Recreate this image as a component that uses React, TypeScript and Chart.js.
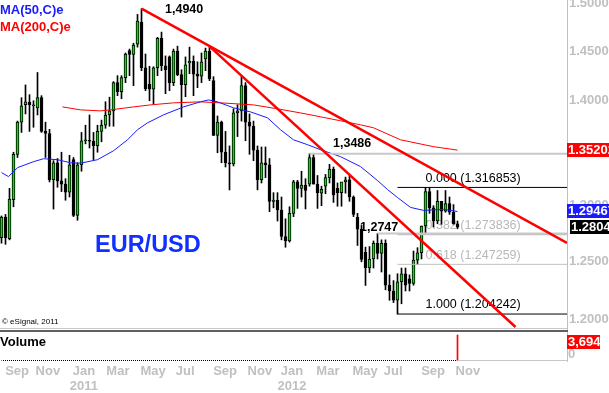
import React, { useEffect, useRef } from 'react';
import { Chart, registerables } from 'chart.js';

Chart.register(...registerables);

const FONT = '"Liberation Sans", Arial, sans-serif';
const GREEN = '#00e600';

// Weekly EUR/USD candles (week index 0 = first bar on the left)
const OPEN = [
  1.2710, 1.2895, 1.2700, 1.3055, 1.3480, 1.3790, 1.3960, 1.3985, 1.3950, 1.3930,
  1.4030, 1.3700, 1.3680, 1.3240, 1.3400, 1.3230, 1.3200, 1.3125, 1.3430, 1.2910,
  1.3380, 1.3610, 1.3615, 1.3605, 1.3563, 1.3700, 1.3760, 1.3860, 1.3900, 1.4180,
  1.4090, 1.4230, 1.4505, 1.4465, 1.4570, 1.4800, 1.4330, 1.4165, 1.4115, 1.4330,
  1.4630, 1.4350, 1.4440, 1.4180, 1.4500, 1.4260, 1.4160, 1.4380, 1.4395, 1.4265,
  1.4245, 1.4420, 1.4500, 1.4200, 1.3660, 1.3790, 1.3500, 1.3400, 1.3390, 1.3880,
  1.3900, 1.4150, 1.3790, 1.3750, 1.3520, 1.3240, 1.3400, 1.3380, 1.3040, 1.3050,
  1.2960, 1.2720, 1.2680, 1.2930, 1.3220, 1.3160, 1.3190, 1.3200, 1.3450, 1.3200,
  1.3115, 1.3180, 1.3260, 1.3340, 1.3160, 1.3120, 1.3220, 1.3240, 1.3080, 1.2893,
  1.2785, 1.2580, 1.2440, 1.2520, 1.2660, 1.2570, 1.2660, 1.2290, 1.2240, 1.2160,
  1.2320, 1.2390, 1.2345, 1.2305, 1.2510, 1.2575, 1.2815, 1.3130, 1.2980, 1.2860,
  1.3040, 1.2950, 1.3020, 1.2940, 1.2835,
];
const HIGH = [
  1.2906, 1.2920, 1.3160, 1.3500, 1.3800, 1.4030, 1.4157, 1.4060, 1.4000, 1.4282,
  1.4050, 1.3790, 1.3720, 1.3420, 1.3440, 1.3500, 1.3250, 1.3470, 1.3450, 1.3400,
  1.3690, 1.3760, 1.3860, 1.3690, 1.3760, 1.3810, 1.3990, 1.4035, 1.4190, 1.4250,
  1.4250, 1.4480, 1.4520, 1.4580, 1.4880, 1.4940, 1.4470, 1.4345, 1.4340, 1.4640,
  1.4695, 1.4450, 1.4450, 1.4520, 1.4550, 1.4310, 1.4440, 1.4540, 1.4450, 1.4390,
  1.4480, 1.4530, 1.4548, 1.4240, 1.3850, 1.3800, 1.3700, 1.3560, 1.3920, 1.3960,
  1.4247, 1.4180, 1.3870, 1.3800, 1.3560, 1.3550, 1.3550, 1.3440, 1.3120, 1.3120,
  1.3080, 1.2880, 1.2990, 1.3235, 1.3235, 1.3320, 1.3250, 1.3486, 1.3490, 1.3280,
  1.3180, 1.3290, 1.3385, 1.3360, 1.3210, 1.3215, 1.3265, 1.3280, 1.3090, 1.2930,
  1.2820, 1.2625, 1.2630, 1.2680, 1.2747, 1.2690, 1.2690, 1.2380, 1.2330, 1.2390,
  1.2440, 1.2440, 1.2380, 1.2590, 1.2620, 1.2815, 1.316853, 1.3165, 1.3000, 1.3140,
  1.3040, 1.3140, 1.3080, 1.3010, 1.2860,
];
const LOW = [
  1.2660, 1.2650, 1.2690, 1.2990, 1.3450, 1.3690, 1.3870, 1.3700, 1.3740, 1.3860,
  1.3690, 1.3450, 1.3220, 1.2969, 1.3170, 1.3130, 1.3050, 1.3080, 1.2900, 1.2867,
  1.3320, 1.3580, 1.3540, 1.3430, 1.3500, 1.3600, 1.3730, 1.3750, 1.3750, 1.4050,
  1.4020, 1.4180, 1.4250, 1.4150, 1.4540, 1.4300, 1.4100, 1.4000, 1.3968, 1.4250,
  1.4300, 1.4070, 1.4100, 1.4150, 1.4250, 1.3840, 1.4040, 1.4270, 1.4050, 1.4130,
  1.4180, 1.4300, 1.4200, 1.3660, 1.3495, 1.3400, 1.3360, 1.3145, 1.3370, 1.3650,
  1.3800, 1.3610, 1.3480, 1.3420, 1.3146, 1.3210, 1.3260, 1.2945, 1.2980, 1.2860,
  1.2690, 1.2624, 1.2670, 1.2900, 1.2975, 1.3080, 1.2970, 1.3180, 1.3200, 1.2975,
  1.3000, 1.3110, 1.3210, 1.3030, 1.2995, 1.2995, 1.3115, 1.3040, 1.2900, 1.2640,
  1.2495, 1.2288, 1.2400, 1.2440, 1.2520, 1.2405, 1.2250, 1.2160, 1.2140, 1.2042,
  1.2130, 1.2240, 1.2240, 1.2290, 1.2470, 1.2520, 1.2750, 1.2930, 1.2805, 1.2835,
  1.2830, 1.2940, 1.2920, 1.2830, 1.2790,
];
const CLOSE = [
  1.2895, 1.2710, 1.3060, 1.3480, 1.3790, 1.3950, 1.3990, 1.3960, 1.3955, 1.4030,
  1.3700, 1.3680, 1.3240, 1.3400, 1.3230, 1.3200, 1.3125, 1.3380, 1.2910, 1.3380,
  1.3610, 1.3615, 1.3605, 1.3563, 1.3700, 1.3760, 1.3860, 1.3900, 1.4180, 1.4090,
  1.4230, 1.4470, 1.4465, 1.4560, 1.4810, 1.4330, 1.4120, 1.4115, 1.4330, 1.4630,
  1.4350, 1.4310, 1.4180, 1.4500, 1.4260, 1.4160, 1.4360, 1.4395, 1.4265, 1.4245,
  1.4390, 1.4500, 1.4220, 1.3660, 1.3790, 1.3500, 1.3400, 1.3390, 1.3880, 1.3900,
  1.4150, 1.3790, 1.3750, 1.3520, 1.3240, 1.3400, 1.3380, 1.3040, 1.3050, 1.2960,
  1.2720, 1.2680, 1.2930, 1.3220, 1.3160, 1.3190, 1.3140, 1.3450, 1.3200, 1.3120,
  1.3150, 1.3260, 1.3340, 1.3100, 1.3120, 1.3220, 1.3240, 1.3080, 1.2920, 1.2785,
  1.2515, 1.2440, 1.2520, 1.2660, 1.2570, 1.2660, 1.2290, 1.2240, 1.2160, 1.2320,
  1.2390, 1.2290, 1.2305, 1.2510, 1.2575, 1.2815, 1.3130, 1.2980, 1.2860, 1.3040,
  1.2950, 1.3020, 1.2940, 1.2835, 1.2804,
];

// Moving averages (week index, value)
const MA50_IDX = [0, 1.75, 4, 8, 10.5, 14, 17.25, 19.75, 24, 28, 31.5, 34, 36.5, 40.5, 45.5, 49.75, 51.75, 54, 58, 62.25, 66.5, 69.75, 73, 76.5, 79.75, 84.75, 89.75, 94, 96.5, 99, 102.25, 105.5, 110.5, 114];
const MA50_VAL = [1.3307, 1.3270, 1.3354, 1.3410, 1.3438, 1.3429, 1.3400, 1.3396, 1.3429, 1.3514, 1.3619, 1.3716, 1.3783, 1.3861, 1.3939, 1.3989, 1.4008, 1.3989, 1.3930, 1.3890, 1.3832, 1.3716, 1.3619, 1.3572, 1.3524, 1.3458, 1.3364, 1.3233, 1.3149, 1.3075, 1.2984, 1.2957, 1.2966, 1.29467];
const MA200_IDX = [15.25, 19.75, 24.75, 27.25, 33, 37.25, 43, 49.75, 54.75, 63, 69, 74.75, 79.75, 84.75, 89.75, 93, 99.75, 108, 114];
const MA200_VAL = [1.3939, 1.3910, 1.3900, 1.3910, 1.3939, 1.3959, 1.3979, 1.3989, 1.3979, 1.3959, 1.3920, 1.3880, 1.3842, 1.3803, 1.3764, 1.3735, 1.3619, 1.3553, 1.35202];

// Trend lines (week index, price)
const TREND_A_IDX = [35, 141.375];
const TREND_A_VAL = [1.4940, 1.2662];
const TREND_B_IDX = [52, 128.5];
const TREND_B_VAL = [1.4548, 1.1933];

// Horizontal levels
const PEAK_LEVELS = [1.3486, 1.2747];
const PEAK_START = [77, 94];
const PEAK_TEXT = ['1,3486', '1,2747'];
const FIB_LEVELS = [1.316853, 1.273836, 1.247259, 1.204242];
const FIB_NAMES = ['0.000', '0.382', '0.618', '1.000'];
const FIB_START = 99;
const X_END = 141.375;

const VOLUME_LAST = 3694;

const Y_TICKS = [1.5, 1.45, 1.4, 1.35, 1.3, 1.25, 1.2];
const MONTH_POS = [3.9, 11.6, 20.6, 29.1, 37.9, 45.9, 55.9, 64.6, 72.6, 81.6, 90.9, 97.9, 107.9, 116.6];
const MONTH_LABELS = ['Sep', 'Nov', 'Jan', 'Mar', 'May', 'Jul', 'Sep', 'Nov', 'Jan', 'Mar', 'May', 'Jul', 'Sep', 'Nov'];
const YEAR_AT: Record<number, string> = { 2: '2011', 8: '2012' };

const PRICE_MAX = 1.5032;
const PRICE_MIN = 1.16496;

const overlayPlugin = {
  id: 'overlay',
  beforeDatasetsDraw(chart: any) {
    const { ctx, scales } = chart;
    const xs = scales.x, ys = scales.y;
    ctx.save();
    ctx.font = `12.5px ${FONT}`;
    ctx.textAlign = 'left';
    ctx.textBaseline = 'middle';
    FIB_LEVELS.forEach((lv, k) => {
      ctx.fillStyle = (k === 0 || k === 3) ? '#000000' : '#b8b8b8';
      ctx.fillText(`${FIB_NAMES[k]} (${lv.toFixed(6)})`, xs.getPixelForValue(106), ys.getPixelForValue(lv) - 9);
    });
    ctx.restore();
  },
  afterDraw(chart: any) {
    const { ctx, scales } = chart;
    const xs = scales.x, ys = scales.y, yv = scales.yv;
    const right = chart.chartArea.right;
    ctx.save();
    // panel separator
    ctx.fillStyle = '#c8c8c8';
    ctx.fillRect(0, 328, right, 1);
    ctx.fillStyle = '#606060';
    ctx.fillRect(0, 330, right + 1, 2);
    // bottom frame right of last bar
    const lastX = xs.getPixelForValue(CLOSE.length - 1);
    ctx.fillStyle = '#c8c8c8';
    ctx.fillRect(lastX, 360, right - lastX, 1);

    ctx.textAlign = 'left';
    ctx.textBaseline = 'middle';
    // legend
    ctx.font = `bold 13px ${FONT}`;
    ctx.fillStyle = '#1a1aff';
    ctx.fillText('MA(50,C)e', 0, 10);
    ctx.fillStyle = '#ff0000';
    ctx.fillText('MA(200,C)e', 0, 27);
    // title
    ctx.font = `bold 23.5px ${FONT}`;
    ctx.fillStyle = '#1030ff';
    ctx.fillText('EUR/USD', 95, 246);
    // peak labels
    ctx.font = `bold 12.5px ${FONT}`;
    ctx.fillStyle = '#000000';
    ctx.fillText('1,4940', 165, 10);
    ctx.fillText(PEAK_TEXT[0], 333, ys.getPixelForValue(PEAK_LEVELS[0]) - 10);
    ctx.fillText(PEAK_TEXT[1], 360, ys.getPixelForValue(PEAK_LEVELS[1]) - 6);
    // copyright
    ctx.font = `8px ${FONT}`;
    ctx.fillText('\u00A9 eSignal, 2011', 2, 322);
    // Volume
    ctx.font = `bold 13px ${FONT}`;
    ctx.fillText('Volume', 0, 342);

    // right-side value boxes
    ctx.font = `bold 13px ${FONT}`;
    const box = (val: number, text: string, bg: string, x0: number) => {
      const y = ys.getPixelForValue(val);
      ctx.fillStyle = bg;
      ctx.fillRect(x0, Math.round(y) - 7, 609 - x0, 14);
      ctx.fillStyle = '#ffffff';
      ctx.fillText(text, x0 + 1, Math.round(y));
    };
    const ma200Last = MA200_VAL[MA200_VAL.length - 1];
    const ma50Last = MA50_VAL[MA50_VAL.length - 1];
    const lastClose = CLOSE[CLOSE.length - 1];
    box(ma200Last, ma200Last.toFixed(5), '#ff0000', right);
    box(ma50Last, ma50Last.toFixed(5), '#1a1aff', right);
    box(lastClose, lastClose.toFixed(5), '#000000', right + 3);
    // volume label
    const vy = yv.getPixelForValue(VOLUME_LAST);
    ctx.fillStyle = '#ff0000';
    ctx.fillRect(right, vy, 33, 14);
    ctx.fillStyle = '#ffffff';
    ctx.fillText(VOLUME_LAST.toLocaleString('en-US'), right + 1, vy + 7);
    ctx.fillStyle = '#c0c0c0';
    ctx.fillText('0', right + 1, 354);
    ctx.restore();
  },
};

export default function App() {
  const ref = useRef<HTMLCanvasElement | null>(null);

  useEffect(() => {
    const canvas = ref.current;
    if (!canvas) return;
    const n = CLOSE.length;
    const idx = OPEN.map((_, i) => i);

    const hline = (level: number, start: number, color: string, width: number) => ({
      type: 'line' as const,
      data: [{ x: start, y: level }, { x: X_END, y: level }],
      borderColor: color,
      borderWidth: width,
      pointRadius: 0,
      yAxisID: 'y',
      order: 3,
    });

    const chart = new Chart(canvas, {
      type: 'line',
      data: {
        datasets: [
          {
            type: 'bar',
            data: idx.map((i) => ({ x: i, y: [LOW[i], HIGH[i]] })),
            backgroundColor: '#000000',
            barThickness: 1,
            grouped: false,
            yAxisID: 'y',
            order: 10,
          } as any,
          {
            type: 'bar',
            data: idx.map((i) => ({ x: i, y: [OPEN[i], CLOSE[i]] })),
            backgroundColor: (c: any) => (CLOSE[c.dataIndex] > OPEN[c.dataIndex] ? GREEN : '#000000'),
            borderColor: '#000000',
            borderWidth: 1,
            borderSkipped: false,
            barThickness: 3,
            minBarLength: 1,
            grouped: false,
            yAxisID: 'y',
            order: 9,
          } as any,
          {
            type: 'line',
            data: MA200_IDX.map((x, k) => ({ x, y: MA200_VAL[k] })),
            borderColor: '#ff0000',
            borderWidth: 1,
            pointRadius: 0,
            yAxisID: 'y',
            order: 5,
          },
          {
            type: 'line',
            data: MA50_IDX.map((x, k) => ({ x, y: MA50_VAL[k] })),
            borderColor: '#1a1aff',
            borderWidth: 1,
            pointRadius: 0,
            yAxisID: 'y',
            order: 4,
          },
          hline(PEAK_LEVELS[0], PEAK_START[0], '#c8c8c8', 2),
          hline(PEAK_LEVELS[1], PEAK_START[1], '#c8c8c8', 2),
          hline(FIB_LEVELS[0], FIB_START, '#000000', 1),
          hline(FIB_LEVELS[1], FIB_START, '#c0c0c0', 1.5),
          hline(FIB_LEVELS[2], FIB_START, '#c0c0c0', 1),
          hline(FIB_LEVELS[3], FIB_START, '#000000', 1),
          {
            type: 'line',
            data: TREND_A_IDX.map((x, k) => ({ x, y: TREND_A_VAL[k] })),
            borderColor: '#ff0000',
            borderWidth: 2.5,
            pointRadius: 0,
            yAxisID: 'y',
            order: 2,
          },
          {
            type: 'line',
            data: TREND_B_IDX.map((x, k) => ({ x, y: TREND_B_VAL[k] })),
            borderColor: '#ff0000',
            borderWidth: 2.5,
            pointRadius: 0,
            yAxisID: 'y',
            order: 2,
          },
          {
            type: 'line',
            data: [{ x: 0, y: 0 }, { x: n - 1, y: 0 }],
            borderColor: '#000000',
            borderWidth: 1,
            borderDash: [1, 1],
            borderDashOffset: 0.5,
            pointRadius: 0,
            yAxisID: 'yv',
            order: 1,
          } as any,
          {
            type: 'line',
            data: [{ x: 0, y: 0 }, { x: n - 1, y: 0 }],
            borderColor: '#ff0000',
            borderWidth: 1,
            borderDash: [1, 7],
            borderDashOffset: 2.5,
            pointRadius: 0,
            yAxisID: 'yv',
            order: 1,
          } as any,
          {
            type: 'bar',
            data: [{ x: n - 1, y: VOLUME_LAST }],
            backgroundColor: '#ff0000',
            barThickness: 1,
            grouped: false,
            yAxisID: 'yv',
            order: 0,
          } as any,
        ],
      },
      options: {
        responsive: false,
        devicePixelRatio: 1,
        animation: false,
        events: [],
        layout: { padding: 0 },
        plugins: { legend: { display: false }, tooltip: { enabled: false } },
        scales: {
          x: {
            type: 'linear',
            min: -0.375,
            max: X_END,
            offset: false,
            grid: { display: false, drawTicks: false },
            border: { display: false },
            afterBuildTicks: (s: any) => {
              s.ticks = MONTH_POS.map((v) => ({ value: v }));
            },
            afterFit: (s: any) => {
              s.height = 32;
              s.paddingLeft = 0;
              s.paddingRight = 0;
            },
            ticks: {
              autoSkip: false,
              maxRotation: 0,
              padding: 3,
              color: '#c0c0c0',
              font: { family: FONT, size: 13, weight: 'bold', lineHeight: 1.15 },
              callback: (_v: any, i: number) => (YEAR_AT[i] ? [MONTH_LABELS[i], YEAR_AT[i]] : MONTH_LABELS[i]),
            },
          },
          y: {
            type: 'logarithmic',
            position: 'right',
            min: PRICE_MIN,
            max: PRICE_MAX,
            grid: { display: false, drawTicks: false },
            border: { display: true, color: '#c0c0c0' },
            afterBuildTicks: (s: any) => {
              s.ticks = Y_TICKS.map((v) => ({ value: v }));
            },
            afterFit: (s: any) => {
              s.width = 42;
              s.paddingTop = 0;
              s.paddingBottom = 0;
            },
            ticks: {
              autoSkip: false,
              padding: 2,
              color: '#c0c0c0',
              font: { family: FONT, size: 13, weight: 'bold' },
              callback: (v: any) => Number(v).toFixed(5),
            },
          },
          yv: {
            type: 'linear',
            display: false,
            min: -72,
            max: 52224,
            beginAtZero: false,
          },
        },
      } as any,
      plugins: [overlayPlugin],
    });
    return () => chart.destroy();
  }, []);

  return (
    <div style={{ position: 'fixed', left: 0, top: 0, width: 609, height: 393, background: '#ffffff' }}>
      <canvas ref={ref} width={609} height={393} style={{ display: 'block' }} />
    </div>
  );
}
